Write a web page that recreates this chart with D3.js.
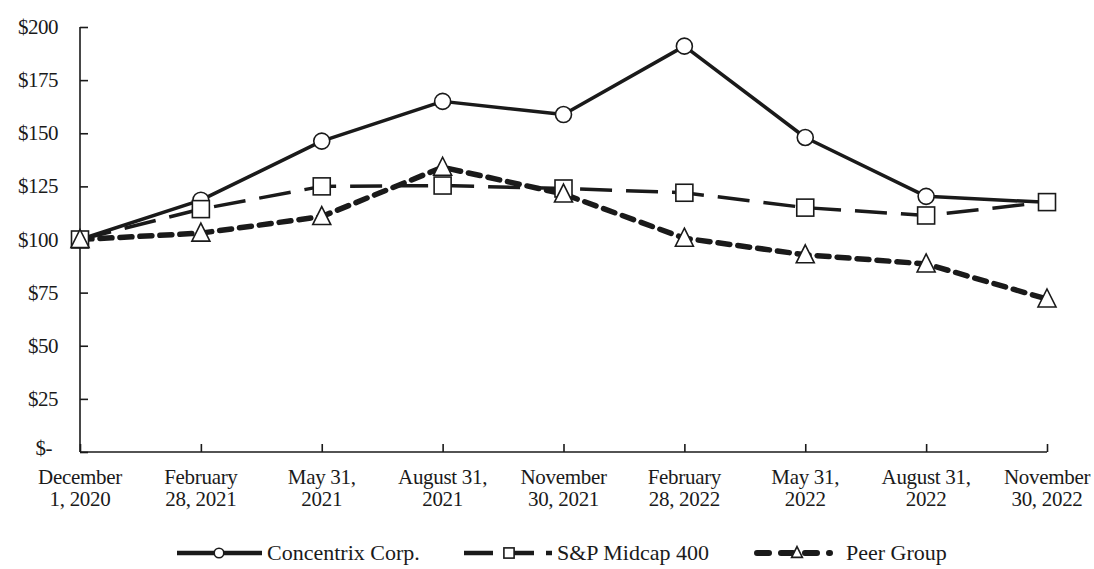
<!DOCTYPE html>
<html><head><meta charset="utf-8">
<script src="https://cdn.jsdelivr.net/npm/d3@7"></script>
<style>body{margin:0;background:#fff}text{font-family:"Liberation Serif","Times New Roman",serif;fill:#1a1a1a}</style>
</head><body><svg id="c" width="1094" height="569"></svg>
<script>
const categories = [["December","1, 2020"],["February","28, 2021"],["May 31,","2021"],["August 31,","2021"],["November","30, 2021"],["February","28, 2022"],["May 31,","2022"],["August 31,","2022"],["November","30, 2022"]];
const concentrix = [100,118.5,146.3,165,158.8,191,148,120.3,117.5];
const spMidcap = [100,114.3,125,125.4,124,122,115,111.3,117.6];
const peerGroup = [100,103,110.8,134,121.4,100.6,92.8,88.5,72];
const yTicks = [0,25,50,75,100,125,150,175,200];
const yTickLabels = ["$-","$25","$50","$75","$100","$125","$150","$175","$200"];
const seriesNames = ["Concentrix Corp.","S&P Midcap 400","Peer Group"];

const svg = d3.select("#c");
const x = d3.scalePoint().domain(d3.range(categories.length)).range([80,1047]);
const y = d3.scaleLinear().domain([0,200]).range([452,27]);
const ink = "#1a1a1a";
const fs = 21;

// Y axis
const ya = svg.append("g").attr("transform","translate(80,0)")
  .call(d3.axisRight(y).tickValues(yTicks).tickSize(8).tickFormat(""));
ya.select(".domain").attr("stroke",ink).attr("stroke-width",1.6).attr("d","M0,27V452");
ya.selectAll(".tick line").attr("stroke",ink).attr("stroke-width",1.6);
svg.append("g").selectAll("text").data(yTicks).join("text")
  .attr("x",d=>d===0?52:58).attr("y",d=>y(d)+(d===0?3:7)).attr("text-anchor","end")
  .attr("font-size",fs).attr("letter-spacing",-0.5).text((d,i)=>yTickLabels[i]);

// X axis
const xa = svg.append("g").attr("transform","translate(0,452)")
  .call(d3.axisTop(x).tickSize(8).tickFormat(""));
xa.select(".domain").attr("stroke",ink).attr("stroke-width",1.6).attr("d","M80,0H1047");
xa.selectAll(".tick line").attr("stroke",ink).attr("stroke-width",1.6);
const xl = svg.append("g").selectAll("text").data(categories).join("text")
  .attr("text-anchor","middle").attr("font-size",fs).attr("letter-spacing",-0.3);
xl.append("tspan").attr("x",(d,i)=>x(i)).attr("y",484).text(d=>d[0]);
xl.append("tspan").attr("x",(d,i)=>x(i)).attr("y",506).text(d=>d[1]);

const line = d3.line().x((d,i)=>x(i)).y(d=>y(d));
const styles = [
  {data:concentrix, w:3.5, dash:null, cap:"butt", shape:"circle"},
  {data:spMidcap, w:3.5, dash:"32,14", cap:"butt", shape:"square"},
  {data:peerGroup, w:5.5, dash:"12,8", cap:"round", shape:"triangle"}
];
function marker(g, shape, cx, cy, s){
  if(shape==="circle") g.append("circle").attr("cx",cx).attr("cy",cy).attr("r",8*s);
  else if(shape==="square") g.append("rect").attr("x",cx-8.5*s).attr("y",cy-8.5*s).attr("width",17*s).attr("height",17*s);
  else { const h=9*s; g.append("path").attr("d",`M${cx},${cy-h-1}L${cx+h},${cy+h-1}L${cx-h},${cy+h-1}Z`); }
}
[2,1,0].forEach(k=>{
  const st=styles[k];
  svg.append("path").datum(st.data).attr("d",line).attr("fill","none").attr("stroke",ink)
    .attr("stroke-width",st.w).attr("stroke-dasharray",st.dash).attr("stroke-linecap",st.cap).attr("stroke-linejoin","round");
});
[0,1,2].forEach(k=>{
  const st=styles[k];
  const g=svg.append("g").attr("fill","#fff").attr("stroke",ink).attr("stroke-width",1.6);
  st.data.forEach((v,i)=>marker(g,st.shape,x(i),y(v),1));
});

// Legend
const legY = 553;
const leg = [
  {x0:177,x1:262,mx:219,tx:267},
  {x0:464,x1:552,mx:509,tx:557},
  {x0:757,x1:830,mx:797,tx:846}
];
leg.forEach((L,k)=>{
  const st=styles[k];
  svg.append("line").attr("x1",L.x0).attr("x2",L.x1).attr("y1",legY).attr("y2",legY)
    .attr("stroke",ink).attr("stroke-width",k===2?6:4.5).attr("stroke-dasharray",k===0?null:(k===1?"29,12":"12,12")).attr("stroke-linecap",st.cap);
  const g=svg.append("g").attr("fill","#fff").attr("stroke",ink).attr("stroke-width",1.6);
  marker(g,st.shape,L.mx,legY,0.6);
  svg.append("text").attr("x",L.tx).attr("y",legY+7).attr("font-size",22).attr("letter-spacing",0).text(seriesNames[k]);
});
</script></body></html>
